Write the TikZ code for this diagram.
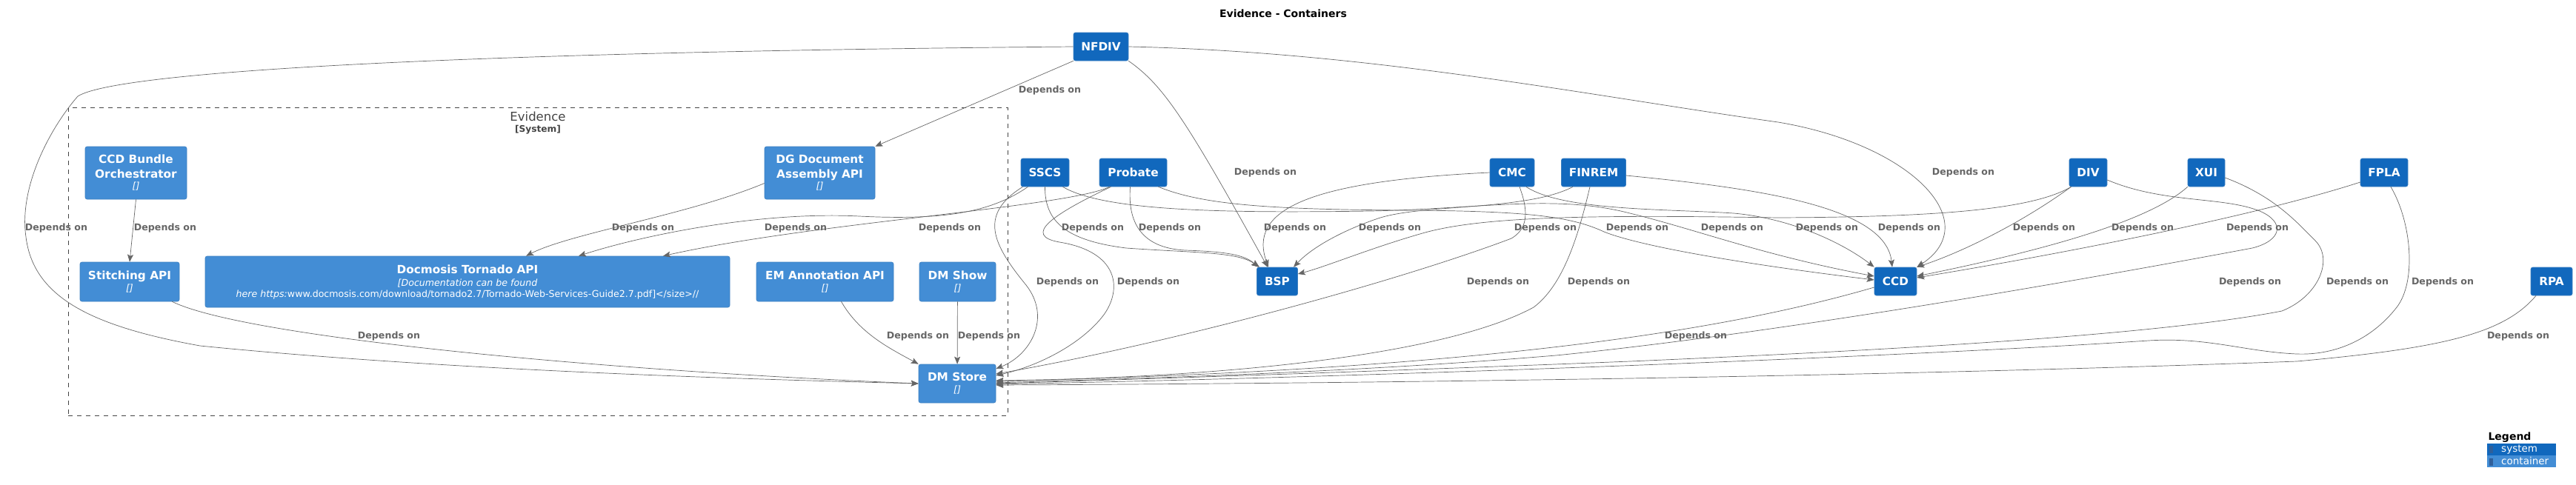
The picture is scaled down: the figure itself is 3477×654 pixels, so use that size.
\documentclass[tikz,border=0pt]{standalone}
\usepackage{fontspec}
\setmainfont{DejaVu Sans}
\usetikzlibrary{arrows.meta}
\definecolor{sysBlue}{HTML}{1168BD}
\definecolor{contBlue}{HTML}{438DD5}
\definecolor{boxLine}{HTML}{3C7FC0}
\definecolor{depGray}{HTML}{666666}
\definecolor{boundGray}{HTML}{444444}
\definecolor{tofuGray}{HTML}{2F5F9A}
\newcommand{\titlefont}{\bfseries\fontsize{14}{17}\selectfont}
\newcommand{\namefont}{\bfseries\fontsize{15.3}{20}\selectfont}
\newcommand{\descfont}{\mdseries\itshape\fontsize{12.6}{15}\selectfont}
\newcommand{\lblfont}{\bfseries\fontsize{12.6}{15}\selectfont}
\newcommand{\techtag}{{\descfont[{}]}}
\newcommand{\tofu}{\textcolor{tofuGray}{\rule[-1pt]{5pt}{10pt}}\hspace{11pt}}

\tikzset{
  sys/.style={rectangle, rounded corners=2.5pt, draw=boxLine, line width=0.6pt,
    fill=sysBlue, text=white, font=\namefont, inner sep=0pt, minimum height=38},
  cont/.style={rectangle, rounded corners=2.5pt, draw=boxLine, line width=0.6pt,
    fill=contBlue, text=white, font=\namefont, align=center, inner sep=0pt},
  dep/.style={draw=depGray, line width=0.7pt, -{Stealth[length=10pt,width=8pt,inset=2pt]}},
  deplbl/.style={text=depGray, font=\lblfont, inner sep=0pt},
  bound/.style={draw=boundGray, line width=0.8pt, dash pattern=on 6pt off 6pt, inner sep=0pt},
  legrow/.style={anchor=north west, text=white, font=\fontsize{13.5}{15}\selectfont,
    text width=87pt, inner xsep=3pt, inner ysep=0pt, minimum height=16, align=left}
}

\begin{document}
\begin{tikzpicture}[x=1pt,y=-1pt]
  \useasboundingbox (0,0) rectangle (3477,654);

  % Title
  \node[font=\titlefont] (title) at (1732,18) {Evidence - Containers};

  % Evidence boundary
  \node[bound, minimum width=1268, minimum height=416] (evidence) at (726,353) {};
  \node[text=boundGray, font=\fontsize{16.5}{18}\selectfont] (evname) at (726,157) {Evidence};
  \node[text=boundGray, font=\bfseries\fontsize{12.2}{14}\selectfont] (evtype) at (726,175) {[System]};

  % Containers
  \node[cont, minimum width=137, minimum height=71] (bundle) at (183.5,233.5) {CCD Bundle\\Orchestrator\\[-5pt]\techtag};
  \node[cont, minimum width=149, minimum height=71] (dgapi) at (1106.5,233.5) {DG Document\\Assembly API\\[-5pt]\techtag};
  \node[cont, minimum width=134, minimum height=53] (stitch) at (175,380.5) {Stitching API\\[-4pt]\techtag};
  \node[cont, minimum width=708, minimum height=69] (docmosis) at (631,380.5) {Docmosis Tornado API\\[-3pt]{\descfont [Documentation can be found}\\[-5pt]{\descfont here https:\upshape www.docmosis.com/download/tornado2.7/Tornado-Web-Services-Guide2.7.pdf]</size>//}};
  \node[cont, minimum width=185, minimum height=53] (emapi) at (1113.5,380.5) {EM Annotation API\\[-4pt]\techtag};
  \node[cont, minimum width=103, minimum height=53] (dmshow) at (1292.5,380.5) {DM Show\\[-4pt]\techtag};
  \node[cont, minimum width=104, minimum height=52] (dmstore) at (1292,518) {DM Store\\[-4pt]\techtag};

  % Systems
  \node[sys, minimum width=74] (nfdiv) at (1486,63) {NFDIV};
  \node[sys, minimum width=65] (sscs) at (1410.5,233) {SSCS};
  \node[sys, minimum width=91] (probate) at (1529.5,233) {Probate};
  \node[sys, minimum width=60] (cmc) at (2041,233) {CMC};
  \node[sys, minimum width=87] (finrem) at (2151,233) {FINREM};
  \node[sys, minimum width=51] (div) at (2818.5,233) {DIV};
  \node[sys, minimum width=50] (xui) at (2978,233) {XUI};
  \node[sys, minimum width=64] (fpla) at (3218,233) {FPLA};
  \node[sys, minimum width=55] (bsp) at (1724,380) {BSP};
  \node[sys, minimum width=57] (ccd) at (2558.5,380) {CCD};
  \node[sys, minimum width=56] (rpa) at (3444,380) {RPA};

  % NFDIV
  \draw[dep] (nfdiv.south west) -- (dgapi.north east);
  \draw[dep] (nfdiv.west) .. controls (650,70) and (160,95) .. (105,130) .. controls (70,170) and (25,250) .. (35,320) .. controls (45,400) and (120,440) .. (270,467) .. controls (600,500) and (1000,512) .. (dmstore.west);
  \draw[dep] (nfdiv.south east) .. controls (1570,115) and (1600,160) .. ([xshift=-13pt]bsp.north);
  \draw[dep] (nfdiv.east) .. controls (1850,70) and (2150,130) .. (2400,165) .. controls (2580,195) and (2680,300) .. (ccd.north east);

  % inside Evidence
  \draw[dep] (bundle.south) -- (stitch.north);
  \draw[dep] ([yshift=-14pt]dgapi.west) .. controls (930,290) and (770,315) .. ([xshift=79pt]docmosis.north);
  \draw[dep] ([xshift=-10pt]stitch.south east) .. controls (330,455) and (800,500) .. (dmstore.west);
  \draw[dep] ([xshift=22pt]emapi.south) .. controls (1160,450) and (1200,470) .. (dmstore.north west);
  \draw[dep] (dmshow) -- (dmstore);

  % SSCS
  \draw[dep] ([xshift=-23pt]sscs.south) .. controls (1340,285) and (1280,298) .. (1160,292) .. controls (1020,285) and (860,320) .. ([xshift=150pt]docmosis.north);
  \draw[dep] (sscs.south) .. controls (1410,300) and (1440,325) .. (1520,335) .. controls (1620,342) and (1670,340) .. ([xshift=-24pt]bsp.north);
  \draw[dep] ([xshift=24pt]sscs.south) .. controls (1490,285) and (1650,288) .. (1850,285) .. controls (2000,282) and (2100,262) .. (2200,288) .. controls (2290,310) and (2380,345) .. ([yshift=7pt]ccd.west);
  \draw[dep] ([xshift=-30pt]sscs.south) .. controls (1320,290) and (1340,330) .. (1385,385) .. controls (1420,430) and (1390,480) .. ([yshift=20pt]dmstore.east);

  % Probate
  \draw[dep] ([xshift=-32pt]probate.south) .. controls (1440,280) and (1100,300) .. ([xshift=264pt]docmosis.north);
  \draw[dep] ([xshift=-4pt]probate.south) .. controls (1522,300) and (1540,335) .. (1600,338) .. controls (1660,340) and (1680,345) .. ([xshift=-25pt]bsp.north);
  \draw[dep] ([xshift=34pt]probate.south) .. controls (1620,275) and (1700,283) .. (1900,284) .. controls (2060,285) and (2120,292) .. (2165,313) .. controls (2220,335) and (2380,360) .. ([yshift=2pt]ccd.west);
  \draw[dep] ([xshift=-30pt]probate.south) .. controls (1420,290) and (1380,318) .. (1430,327) .. controls (1510,340) and (1515,390) .. (1490,425) .. controls (1460,465) and (1400,495) .. ([yshift=11pt]dmstore.east);

  % CMC
  \draw[dep] (cmc.west) .. controls (1760,245) and (1685,285) .. ([xshift=-12pt]bsp.north);
  \draw[dep] ([xshift=19pt]cmc.south) .. controls (2110,285) and (2250,282) .. (2340,288) .. controls (2420,295) and (2490,330) .. (ccd.north west);
  \draw[dep] ([xshift=10pt]cmc.south) .. controls (2065,290) and (2060,310) .. (2040,322) .. controls (1900,375) and (1600,460) .. ([yshift=13pt]dmstore.east);

  % FINREM
  \draw[dep] ([xshift=-28pt]finrem.south) .. controls (2060,285) and (1920,275) .. (1860,295) .. controls (1810,312) and (1770,335) .. ([xshift=22pt]bsp.north);
  \draw[dep] ([yshift=-4pt]finrem.east) .. controls (2380,255) and (2545,280) .. ([xshift=-4.5pt]ccd.north);
  \draw[dep] ([xshift=-5pt]finrem.south) .. controls (2130,320) and (2110,385) .. (2070,415) .. controls (1950,480) and (1650,510) .. ([yshift=4pt]dmstore.east);

  % DIV
  \draw[dep] ([xshift=-23pt]div.south) .. controls (2740,285) and (2600,293) .. (2400,294) .. controls (2150,290) and (2000,292) .. (1920,315) .. controls (1850,335) and (1790,360) .. ([yshift=10pt]bsp.east);
  \draw[dep] ([xshift=-23pt]div.south) .. controls (2730,300) and (2650,340) .. (ccd.north east);
  \draw[dep] ([yshift=-10pt]div.east) .. controls (2920,275) and (3000,265) .. (3050,285) .. controls (3085,300) and (3080,325) .. (3040,335) .. controls (2800,380) and (2400,450) .. (2100,480) .. controls (1800,505) and (1500,512) .. ([yshift=1pt]dmstore.east);

  % XUI
  \draw[dep] (xui.south west) .. controls (2900,300) and (2750,340) .. ([yshift=7pt]ccd.east);
  \draw[dep] ([yshift=-7pt]xui.east) .. controls (3070,265) and (3100,300) .. (3125,325) .. controls (3150,350) and (3130,400) .. (3080,420) .. controls (2900,455) and (2500,475) .. (2200,488) .. controls (1900,500) and (1600,510) .. (dmstore.east);

  % FPLA
  \draw[dep] ([yshift=-13pt]fpla.west) .. controls (3050,290) and (2800,340) .. ([yshift=5pt]ccd.east);
  \draw[dep] ([xshift=9pt]fpla.south) .. controls (3255,300) and (3262,380) .. (3235,415) .. controls (3200,460) and (3150,480) .. (3100,478) .. controls (3030,475) and (2980,455) .. (2900,460) .. controls (2600,480) and (1900,508) .. ([yshift=-1pt]dmstore.east);

  % RPA and CCD
  \draw[dep] ([xshift=-21pt]rpa.south) .. controls (3380,450) and (3300,470) .. (3100,488) .. controls (2500,510) and (1800,518) .. ([yshift=-2pt]dmstore.east);
  \draw[dep] ([yshift=-8pt]ccd.west) .. controls (2300,455) and (1950,500) .. ([yshift=3pt]dmstore.east);

  % Relation labels
  \foreach \x/\y [count=\i] in {1417/122, 1708/233, 2650/233,
      76/308, 223/308, 868/308, 1074/308, 1282/308, 1475/308, 1579/308, 1748/308, 1876/308,
      2086/308, 2210/308, 2338/308, 2466/308, 2577/308, 2759/308, 2892/308, 3047/308,
      1441/381, 1550/381, 2022/381, 2158/381, 3037/381, 3182/381, 3297/381,
      525/454, 1239/454, 1335/454, 2289/454, 3399/454}
    \node[deplbl] (dl\i) at (\x,\y) {Depends on};

  % Legend
  \node[anchor=west, font=\bfseries\fontsize{14}{16}\selectfont] (legend) at (3355,591) {Legend};
  \node[legrow, fill=sysBlue] (legsys) at (3357,599) {\tofu system};
  \node[legrow, fill=contBlue] (legcont) at (3357,615) {\tofu container};
\end{tikzpicture}
\end{document}
